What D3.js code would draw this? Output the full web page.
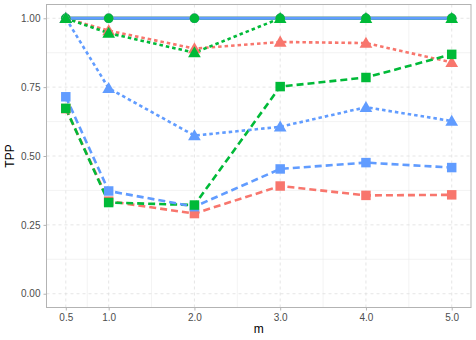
<!DOCTYPE html>
<html>
<head>
<meta charset="utf-8">
<script src="https://cdn.jsdelivr.net/npm/d3@7"></script>
<style>
  body { margin: 0; background: #fff; }
  text { font-family: "Liberation Sans", Arial, sans-serif; }
</style>
</head>
<body>
<div class="chart"></div>
<script>
// x values (m) and tick labels
var mVals = [0.5, 1, 2, 3, 4, 5];
var xTicks = [0.5, 1, 2, 3, 4, 5];
var yTicks = [0, 0.25, 0.5, 0.75, 1];

// TPP per series (colour x shape)
var redCircle   = [1, 1, 1, 1, 1, 1];
var greenCircle = [1, 1, 1, 1, 1, 1];
var blueCircle  = [1, 1, 1, 1, 1, 1];
var redTri      = [1, 0.955, 0.89, 0.914, 0.91, 0.84];
var greenTri    = [1, 0.946, 0.875, 1, 1, 1];
var blueTri     = [1, 0.746, 0.574, 0.606, 0.677, 0.627];
var redSq       = [0.672, 0.336, 0.291, 0.391, 0.357, 0.359];
var greenSq     = [0.673, 0.331, 0.322, 0.752, 0.785, 0.869];
var blueSq      = [0.715, 0.373, 0.316, 0.453, 0.476, 0.458];

var red = "#F8766D", green = "#00BA38", blue = "#619CFF";

var series = [
  {vals: redTri, col: red, shape: "tri"},
  {vals: redSq, col: red, shape: "sq"},
  {vals: greenTri, col: green, shape: "tri"},
  {vals: greenSq, col: green, shape: "sq"},
  {vals: blueTri, col: blue, shape: "tri"},
  {vals: blueSq, col: blue, shape: "sq"},
  {vals: redCircle, col: red, shape: "circ"},
  {vals: greenCircle, col: green, shape: "circ"},
  {vals: blueCircle, col: blue, shape: "circ"}
];

var W = 476, H = 340;
var margin = {top: 4.5, right: 5, bottom: 32.5, left: 46.5},
    w = W - margin.left - margin.right,
    h = H - margin.top - margin.bottom;

var svg = d3.select(".chart").append("svg")
    .attr("width", W).attr("height", H);

var x = d3.scaleLinear().domain([0.275, 5.225]).range([margin.left, margin.left + w]);
var y = d3.scaleLinear().domain([-0.05, 1.05]).range([margin.top + h, margin.top]);

var g = svg.append("g");

// minor grid
var xMinor = [0.75, 1.5, 2.5, 3.5, 4.5];
var yMinor = [0.125, 0.375, 0.625, 0.875];
g.selectAll(".xminor").data(xMinor).enter().append("line")
  .attr("x1", d => x(d)).attr("x2", d => x(d))
  .attr("y1", margin.top).attr("y2", margin.top + h)
  .attr("stroke", "#ebebeb").attr("stroke-width", 0.6);
g.selectAll(".yminor").data(yMinor).enter().append("line")
  .attr("y1", d => y(d)).attr("y2", d => y(d))
  .attr("x1", margin.left).attr("x2", margin.left + w)
  .attr("stroke", "#ebebeb").attr("stroke-width", 0.6);

// major grid (dashed)
g.selectAll(".xmajor").data(xTicks).enter().append("line")
  .attr("x1", d => x(d)).attr("x2", d => x(d))
  .attr("y1", margin.top).attr("y2", margin.top + h)
  .attr("stroke", "#dedede").attr("stroke-width", 0.8)
  .attr("stroke-dasharray", "3,3");
g.selectAll(".ymajor").data(yTicks).enter().append("line")
  .attr("y1", d => y(d)).attr("y2", d => y(d))
  .attr("x1", margin.left).attr("x2", margin.left + w)
  .attr("stroke", "#dedede").attr("stroke-width", 0.8)
  .attr("stroke-dasharray", "3,3");

// axes
var xAxis = d3.axisBottom(x).tickValues(xTicks).tickFormat(d3.format(".1f")).tickSize(3).tickPadding(3);
var yAxis = d3.axisLeft(y).tickValues(yTicks).tickFormat(d3.format(".2f")).tickSize(3).tickPadding(3);

var gx = svg.append("g").attr("transform", "translate(0," + (margin.top + h) + ")").call(xAxis);
var gy = svg.append("g").attr("transform", "translate(" + margin.left + ",0)").call(yAxis);
[gx, gy].forEach(function(a) {
  a.select(".domain").remove();
  a.selectAll(".tick line").attr("stroke", "#b3b3b3");
  a.selectAll(".tick text").attr("fill", "#4d4d4d").style("font-size", "10px");
});

// lines
var line = d3.line().x((d, i) => x(mVals[i])).y(d => y(d));
var dash = {tri: "3.5,3", sq: "7,4", circ: null};

svg.selectAll(".ser").data(series).enter().append("path")
  .attr("d", d => line(d.vals))
  .attr("fill", "none")
  .attr("stroke", d => d.col)
  .attr("stroke-width", d => d.shape == "circ" ? 3 : 2.6)
  .attr("stroke-dasharray", d => dash[d.shape]);

// points (red, blue, green so green ends on top)
var pts = [];
var ptOrder = [6, 8, 7, 0, 4, 2, 1, 5, 3];
ptOrder.forEach(function(si) {
  var s = series[si];
  s.vals.forEach(function(v, i) { pts.push({m: mVals[i], v: v, col: s.col, shape: s.shape}); });
});
var sym = {
  circ: d3.symbol().type(d3.symbolCircle).size(72),
  tri: d3.symbol().type(d3.symbolTriangle).size(70),
  sq: d3.symbol().type(d3.symbolSquare).size(90)
};
svg.selectAll(".pt").data(pts).enter().append("path")
  .attr("transform", d => "translate(" + x(d.m) + "," + (y(d.v) + (d.shape == "tri" ? 1 : 0)) + ")")
  .attr("d", d => sym[d.shape]())
  .attr("fill", d => d.col);

// panel border
svg.append("rect")
  .attr("x", margin.left).attr("y", margin.top)
  .attr("width", w).attr("height", h)
  .attr("fill", "none").attr("stroke", "#b3b3b3").attr("stroke-width", 1);

// titles
svg.append("text").attr("x", margin.left + w / 2).attr("y", 333)
  .attr("text-anchor", "middle").style("font-size", "12px").text("m");
svg.append("text").attr("transform", "translate(14," + (margin.top + h / 2) + ") rotate(-90)")
  .attr("text-anchor", "middle").style("font-size", "12px").text("TPP");
</script>
</body>
</html>
